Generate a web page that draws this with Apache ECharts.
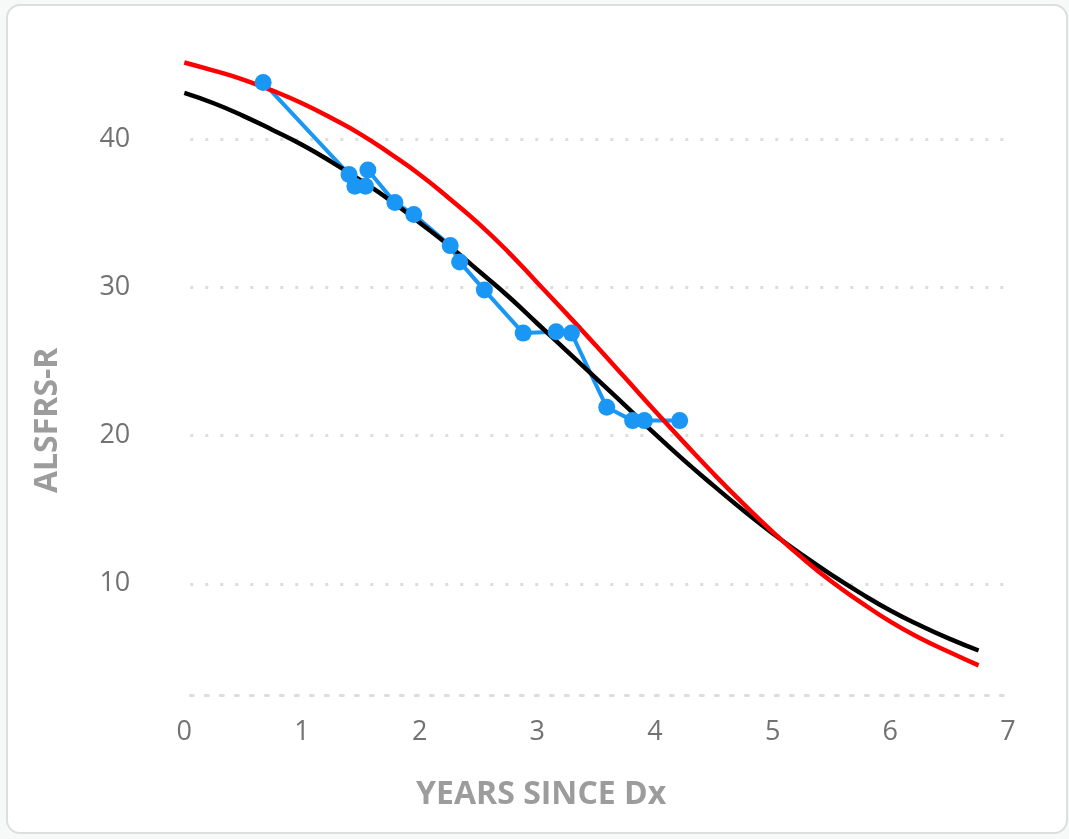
<!DOCTYPE html>
<html>
<head>
<meta charset="utf-8">
<script src="https://cdn.jsdelivr.net/npm/echarts@6/dist/echarts.min.js"></script>
<style>
  html, body { margin: 0; padding: 0; background: #f7f8f8; }
  #card {
    position: absolute; left: 6px; top: 4px; width: 1062px; height: 830px;
    box-sizing: border-box; border: 2px solid #dcdfdf; border-radius: 14px; background: #fff;
  }
  #chart { position: absolute; left: 0; top: 0; width: 1069px; height: 839px; }
</style>
</head>
<body>
<div id="card"></div>
<div id="chart"></div>
<script>
// Patient visits: years since diagnosis and ALSFRS-R score
const visitYears  = [0.67, 1.40, 1.45, 1.54, 1.56, 1.79, 1.95, 2.26, 2.34, 2.55, 2.88, 3.16, 3.29, 3.59, 3.81, 3.91, 4.21];
const visitScores = [43.8, 37.6, 36.8, 36.8, 37.9, 35.7, 34.9, 32.8, 31.7, 29.8, 26.9, 27.0, 26.9, 21.9, 21.0, 21.0, 21.0];

// Progression curves sampled along the years axis
const curveYears = [0, 0.25, 0.5, 0.75, 1, 1.25, 1.5, 1.75, 2, 2.25, 2.5, 2.75, 3, 3.25, 3.5, 3.75,
                    4, 4.25, 4.5, 4.75, 5, 5.25, 5.5, 5.75, 6, 6.25, 6.5, 6.75];
const blackCurve = [43.1, 42.4, 41.55, 40.6, 39.6, 38.45, 37.2, 35.85, 34.35, 32.8, 31.1, 29.4, 27.55, 25.7, 23.85, 22.0,
                    20.1, 18.3, 16.6, 14.95, 13.4, 11.95, 10.6, 9.35, 8.2, 7.2, 6.3, 5.5];
const redCurve   = [45.15, 44.6, 44.0, 43.25, 42.4, 41.4, 40.3, 39.0, 37.6, 36.0, 34.3, 32.4, 30.3, 28.2, 26.05, 23.85,
                    21.65, 19.5, 17.4, 15.4, 13.5, 11.75, 10.15, 8.75, 7.45, 6.35, 5.4, 4.5];

const xTicks = [0, 1, 2, 3, 4, 5, 6, 7];
const yTicks = [10, 20, 30, 40];

const pairs = (xs, ys) => xs.map((x, i) => [x, ys[i]]);

const dotted = { color: '#dddddd', width: 3, type: [3, 12], dashOffset: 9 };
const labelFont = { fontFamily: 'Open Sans', fontSize: 27, color: '#727272' };
const nameFont = { fontFamily: 'Open Sans', fontSize: 32, fontWeight: 'bold', color: '#9c9c9c' };

const chart = echarts.init(document.getElementById('chart'), null, { renderer: 'canvas' });
chart.setOption({
  backgroundColor: 'transparent',
  animation: false,
  grid: { left: 184.3, right: 61, top: 27.6, bottom: 144, outerBoundsMode: 'none' },
  xAxis: {
    type: 'value',
    min: xTicks[0],
    max: xTicks[xTicks.length - 1],
    interval: 1,
    name: 'YEARS SINCE Dx',
    nameLocation: 'middle',
    nameGap: 84,
    nameTextStyle: Object.assign({ padding: [0, 110, 0, 0] }, nameFont),
    axisLine: { show: true, lineStyle: dotted },
    axisTick: { show: false },
    splitLine: { show: false },
    axisLabel: Object.assign({ margin: 24 }, labelFont)
  },
  yAxis: {
    type: 'value',
    min: 2.5,
    max: 47.5,
    name: 'ALSFRS-R',
    nameLocation: 'middle',
    nameGap: 120,
    nameTextStyle: Object.assign({ padding: [0, 118, 0, 0] }, nameFont),
    axisLine: { show: false },
    axisTick: { show: false },
    axisLabel: Object.assign({
      margin: 54,
      showMinLabel: false,
      showMaxLabel: false,
      formatter: v => (yTicks.indexOf(v) >= 0 ? String(v) : '')
    }, labelFont),
    splitLine: { show: true, showMinLine: false, showMaxLine: false, lineStyle: dotted }
  },
  series: [
    {
      name: 'visits-line',
      type: 'line',
      data: pairs(visitYears, visitScores),
      symbol: 'none',
      lineStyle: { color: '#1a97f5', width: 4 },
      z: 2
    },
    {
      name: 'black',
      type: 'line',
      data: pairs(curveYears, blackCurve),
      smooth: true,
      symbol: 'none',
      lineStyle: { color: '#000000', width: 4.5 },
      z: 3
    },
    {
      name: 'red',
      type: 'line',
      data: pairs(curveYears, redCurve),
      smooth: true,
      symbol: 'none',
      lineStyle: { color: '#ff0000', width: 4.5 },
      z: 4
    },
    {
      name: 'visits',
      type: 'scatter',
      data: pairs(visitYears, visitScores),
      symbolSize: 17,
      itemStyle: { color: '#1a97f5', opacity: 1 },
      z: 5
    }
  ]
});
</script>
</body>
</html>
